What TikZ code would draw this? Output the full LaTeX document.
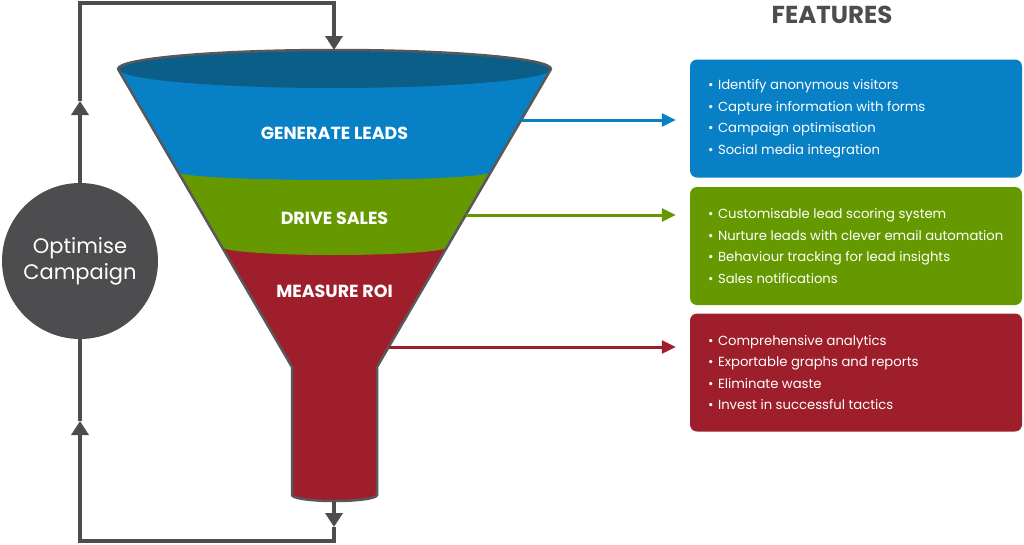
\documentclass[tikz,border=0pt]{standalone}
\usepackage{fontspec}
\setmainfont{Poppins}
\usetikzlibrary{arrows.meta,calc}
\definecolor{fblue}{RGB}{8,128,197}
\definecolor{fdblue}{RGB}{10,94,135}
\definecolor{fgreen}{RGB}{102,153,0}
\definecolor{fred}{RGB}{158,31,43}
\definecolor{fgrey}{RGB}{77,77,79}
\definecolor{foutline}{RGB}{88,88,90}
\tikzset{
  loopline/.style={draw=fgrey, line width=4.5pt},
  looptip/.style={-{Triangle[width=17pt,length=14pt]}},
  featbox/.style={rectangle, rounded corners=7pt, minimum width=332pt, minimum height=118pt, inner sep=0pt, draw=none},
  feattext/.style={anchor=west, align=left, text=white, inner sep=0pt, font=\fontsize{13.2}{21.5}\selectfont},
  bandlabel/.style={text=white, font=\bfseries\fontsize{17.5}{20}\selectfont},
  featarrow/.style={line width=3pt, -{Triangle[width=13pt,length=14pt]}, shorten >=14pt},
}
\newcommand{\bul}{\makebox[10pt][l]{•}}
\begin{document}
\begin{tikzpicture}[x=1pt,y=-1pt]
\useasboundingbox (0,0) rectangle (1024,544);
% funnel body
\def\funnelpath{(118,69) arc[start angle=180,end angle=0,x radius=216.5pt,y radius=19pt] -- (377,367) -- (377,495) arc[start angle=360,end angle=180,x radius=42.5pt,y radius=6pt] -- (292,367) -- cycle}
\begin{scope}
  \clip \funnelpath;
  \fill[fred] (100,30) rectangle (580,520);
  \fill[fgreen] (100,30) -- (100,247) -- (222,247) arc[start angle=180,end angle=360,x radius=112.5pt,y radius=8pt] -- (580,247) -- (580,30) -- cycle;
  \fill[fblue] (100,30) -- (100,172) -- (178.2,172) arc[start angle=180,end angle=360,x radius=156.3pt,y radius=8pt] -- (580,172) -- (580,30) -- cycle;
  \fill[fdblue] (334.5,69) ellipse[x radius=216.5pt, y radius=19pt];
\end{scope}
\draw[foutline, line width=2.5pt, line join=round] \funnelpath;
\node[bandlabel] (gl) at (334.5,133) {GENERATE LEADS};
\node[bandlabel] (ds) at (334.5,218) {DRIVE SALES};
\node[bandlabel] (mr) at (334.5,291) {MEASURE ROI};
% loop
\node[circle, fill=fgrey, minimum size=156pt, inner sep=0pt, align=center, text=white, font=\fontsize{21}{26}\selectfont] (opt) at (80,261) {Optimise\\Campaign};
\coordinate (ftop) at (334,50);
\coordinate (fbot) at (334,501);
\coordinate (mA) at (80,101);
\coordinate (tl) at (80,3);
\coordinate (tr) at (334,3);
\coordinate (mB) at (334,527);
\coordinate (br) at (334,541);
\coordinate (bl) at (80,541);
\coordinate (mC) at (80,421);
\draw[loopline, looptip] (opt.north) -- (mA);
\draw[loopline, looptip] (mA) -- (tl) -- (tr) -- (ftop);
\draw[loopline, looptip] (fbot) -- (mB);
\draw[loopline, looptip] (mB) -- (br) -- (bl) -- (mC);
\draw[loopline] (mC) -- (opt.south);
% features
\node[text=fgrey, font=\bfseries\fontsize{24.5}{28}\selectfont] (feat) at (832,15) {FEATURES};
\node[featbox, fill=fblue] (fb1) at (856,118.5) {};
\node[featbox, fill=fgreen] (fb2) at (856,246) {};
\node[featbox, fill=fred] (fb3) at (856,372.5) {};
\node[feattext] (t1) at ($(fb1.west)+(18,0)$) {\bul Identify anonymous visitors\\\bul Capture information with forms\\\bul Campaign optimisation\\\bul Social media integration};
\node[feattext] (t2) at ($(fb2.west)+(18,0)$) {\bul Customisable lead scoring system\\\bul Nurture leads with clever email automation\\\bul Behaviour tracking for lead insights\\\bul Sales notifications};
\node[feattext] (t3) at ($(fb3.west)+(18,0)$) {\bul Comprehensive analytics\\\bul Exportable graphs and reports\\\bul Eliminate waste\\\bul Invest in successful tactics};
\coordinate (a1) at (521.2,120);
\coordinate (a2) at (465.7,215);
\coordinate (a3) at (388.6,347);
\draw[featarrow, fblue] (a1) -- (a1 -| fb1.west);
\draw[featarrow, fgreen] (a2) -- (a2 -| fb2.west);
\draw[featarrow, fred] (a3) -- (a3 -| fb3.west);
\end{tikzpicture}
\end{document}
